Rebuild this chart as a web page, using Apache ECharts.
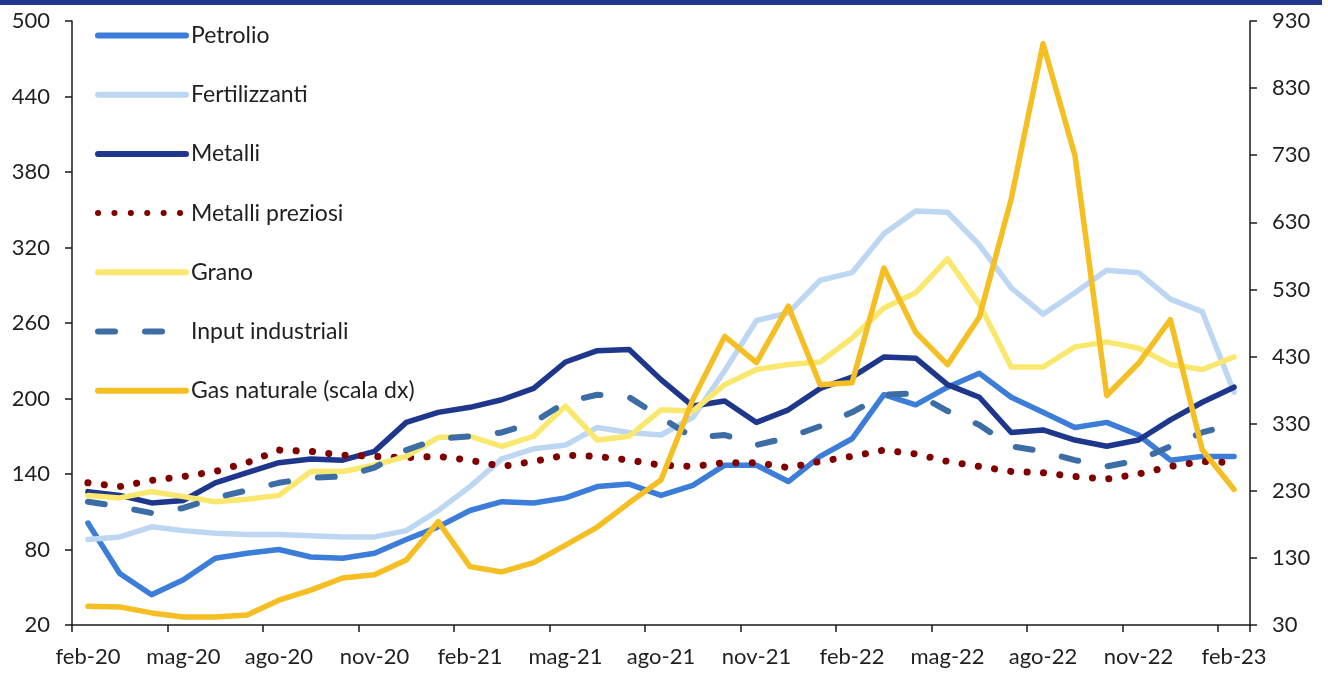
<!DOCTYPE html>
<html>
<head>
<meta charset="utf-8">
<script src="https://cdn.jsdelivr.net/npm/echarts@6/dist/echarts.min.js"></script>
<style>
  html, body { margin: 0; padding: 0; background: #fff; }
  #chart { width: 1328px; height: 673px; }
</style>
</head>
<body>
<div id="chart"></div>
<script>
const categories = [
  'feb-20','mar-20','apr-20','mag-20','giu-20','lug-20','ago-20','set-20','ott-20','nov-20','dic-20','gen-21',
  'feb-21','mar-21','apr-21','mag-21','giu-21','lug-21','ago-21','set-21','ott-21','nov-21','dic-21','gen-22',
  'feb-22','mar-22','apr-22','mag-22','giu-22','lug-22','ago-22','set-22','ott-22','nov-22','dic-22','gen-23',
  'feb-23'
];

const petrolio = [101,61,44,56,73,77,80,74,73,77,88,98,111,118,117,121,130,132,123,131,147,147,134,154,168,203,195,209,220,201,189,177,181,171,151,154,154];
const fertilizzanti = [88,90,98,95,93,92,92,91,90,90,95,111,130,152,160,163,177,173,171,185,222,262,268,294,300,331,349,348,322,288,267,284,302,300,279,269,205];
const metalli = [126,123,117,119,133,141,149,152,151,158,181,189,193,199,208,229,238,239,215,194,198,181,191,208,217,233,232,211,201,173,175,167,162,167,183,197,209];
const metalliPreziosi = [133,130,135,138,142,149,159,158,155,154,153,154,151,146,150,155,154,151,147,146,149,149,145,150,154,159,156,150,146,142,141,138,136,140,146,150,149];
const grano = [123,121,126,122,118,120,123,142,142,147,154,169,170,162,170,194,167,170,191,190,211,223,227,229,248,272,284,311,275,225,225,241,245,240,227,223,233];
const inputIndustriali = [118,114,109,113,121,127,133,137,138,145,159,168,170,173,181,197,203,201,185,169,171,163,169,178,189,203,204,190,179,162,158,151,146,151,162,173,180];
const gasNaturale = [58,57,48,42,42,45,67,82,100,105,127,184,117,109,123,149,176,212,246,366,460,421,505,388,391,562,466,418,489,665,896,730,372,420,485,291,232];

const leftTicks = { min: 20, max: 500, interval: 60 };
const rightTicks = { min: 30, max: 930, interval: 100 };

const FONT = 'Lato';
const TXT = '#1f1f1f';

function lineSeries(name, data, color, width, type, yIdx) {
  return {
    name: name,
    type: 'line',
    data: data,
    yAxisIndex: yIdx || 0,
    symbol: 'none',
    smooth: false,
    lineStyle: { color: color, width: width, type: type || 'solid', cap: 'round', join: 'round' },
    itemStyle: { color: color }
  };
}

const chart = echarts.init(document.getElementById('chart'), null, { renderer: 'canvas' });
chart.setOption({
  animation: false,
  backgroundColor: '#ffffff',
  graphic: [
    { type: 'rect', left: 0, top: 0, shape: { width: 1322, height: 5 }, style: { fill: '#22388C' } }
  ],
  grid: { left: 72, right: 78, top: 21, bottom: 48, containLabel: false },
  legend: {
    orient: 'vertical',
    left: 95,
    top: 24,
    padding: 0,
    itemWidth: 88,
    itemHeight: 23,
    itemGap: 36.2,
    textStyle: { fontFamily: FONT, fontSize: 23, color: TXT, lineHeight: 23 },
    lineStyle: { width: 6 },
    itemStyle: { opacity: 0, borderWidth: 0 },
    data: ['Petrolio','Fertilizzanti','Metalli','Metalli preziosi','Grano','Input industriali','Gas naturale (scala dx)']
  },
  xAxis: {
    type: 'category',
    data: categories,
    boundaryGap: true,
    axisLine: { show: true, lineStyle: { color: '#1a1a1a', width: 1.5 } },
    axisTick: { show: true, interval: 2, length: 7, lineStyle: { color: '#1a1a1a', width: 1.5 } },
    axisLabel: { interval: 2, margin: 21, fontFamily: FONT, fontSize: 22, color: TXT },
    splitLine: { show: false }
  },
  yAxis: [
    {
      type: 'value', position: 'left',
      min: leftTicks.min, max: leftTicks.max, interval: leftTicks.interval,
      axisLine: { show: true, lineStyle: { color: '#1a1a1a', width: 1.5 } },
      axisTick: { show: true, length: 7, lineStyle: { color: '#1a1a1a', width: 1.5 } },
      axisLabel: { margin: 22, fontFamily: FONT, fontSize: 22, color: TXT },
      splitLine: { show: false }
    },
    {
      type: 'value', position: 'right',
      min: rightTicks.min, max: rightTicks.max, interval: rightTicks.interval,
      axisLine: { show: true, lineStyle: { color: '#1a1a1a', width: 1.5 } },
      axisTick: { show: true, length: 7, lineStyle: { color: '#1a1a1a', width: 1.5 } },
      axisLabel: { margin: 22, fontFamily: FONT, fontSize: 22, color: TXT },
      splitLine: { show: false }
    }
  ],
  series: [
    lineSeries('Petrolio', petrolio, '#3B7DD8', 5.5),
    lineSeries('Fertilizzanti', fertilizzanti, '#BDD7F2', 5.5),
    lineSeries('Metalli', metalli, '#1E378C', 5.5),
    lineSeries('Metalli preziosi', metalliPreziosi, '#800000', 7, [0.1, 16.3]),
    lineSeries('Grano', grano, '#FAE86E', 5.5),
    lineSeries('Input industriali', inputIndustriali, '#3C6EA5', 6, [17, 30]),
    lineSeries('Gas naturale (scala dx)', gasNaturale, '#F5BE23', 5.5, 'solid', 1)
  ]
});
</script>
</body>
</html>
